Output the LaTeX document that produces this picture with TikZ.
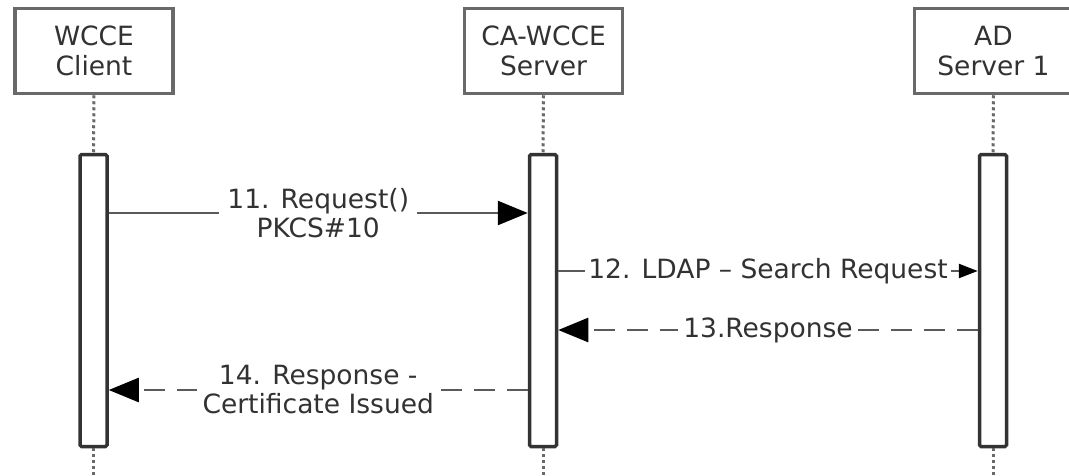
\documentclass[tikz,border=0pt]{standalone}
\usepackage{fontspec}
\setmainfont{DejaVu Sans}
\usetikzlibrary{arrows.meta,calc}
\definecolor{boxgray}{RGB}{105,105,105}
\definecolor{linegray}{RGB}{90,90,90}
\definecolor{txtgray}{RGB}{50,50,50}
\begin{document}
\begin{tikzpicture}[x=1pt,y=-1pt,
  actor/.style={draw=boxgray,line width=3.5pt,fill=white,minimum width=158pt,minimum height=85pt,
    align=center,text=txtgray,font=\fontsize{26.5}{30}\selectfont,inner sep=0pt},
  bar/.style={draw=black!80,line width=3.5pt,fill=white,minimum width=27pt,minimum height=292pt,rounded corners=1.5pt,inner sep=0pt},
  life/.style={draw=boxgray,line width=3pt,dash pattern=on 3pt off 3pt},
  msg/.style={draw=linegray,line width=2.5pt},
  ret/.style={msg,dash pattern=on 21pt off 12pt},
  lbl/.style={fill=white,text=txtgray,font=\fontsize{26.5}{29}\selectfont,align=center,inner xsep=8pt,inner ysep=0pt},
  bigtip/.style={-{Triangle[length=30pt,width=24pt,color=black,fill=black]}},
  smalltip/.style={-{Triangle[length=19pt,width=14pt,color=black,fill=black]}}
]
\useasboundingbox (0,0) rectangle (1069,475);
% lifelines
\coordinate (cbot) at (93.5,475);
\coordinate (sbot) at (543,475);
\coordinate (abot) at (993,475);
\node[bar] (cb) at (93.5,300.5) {};
\node[bar] (sb) at (543,300.5) {};
\node[bar] (ab) at (993,300.5) {};
\node[actor] (c) at (94,51) {WCCE\\Client};
\node[actor] (s) at (543.5,51) {CA-WCCE\\Server};
\node[actor] (a) at (993.5,51) {AD\\Server 1};
\draw[life] (c.south) -- (cb.north);
\draw[life] (s.south) -- (sb.north);
\draw[life] (a.south) -- (ab.north);
\draw[life] (cb.south) -- (cbot);
\draw[life] (sb.south) -- (sbot);
\draw[life] (ab.south) -- (abot);
% message heights
\coordinate (y11) at (0,213);
\coordinate (y12) at (0,271);
\coordinate (y13) at (0,330);
\coordinate (y14) at (0,390);
% 11
\draw[msg,bigtip] (cb.east |- y11) -- node[lbl,pos=0.5] {11. Request()\\PKCS\#10} (sb.west |- y11);
% 12
\draw[msg,smalltip] (sb.east |- y12) -- node[lbl,pos=0.5,inner xsep=3pt] {12. LDAP – Search Request} (ab.west |- y12);
% 13
\draw[ret,bigtip] (ab.west |- y13) -- node[lbl,pos=0.5,inner xsep=5pt] {13.Response} (sb.east |- y13);
% 14
\draw[ret,bigtip] (sb.west |- y14) -- node[lbl,pos=0.5,inner xsep=6pt] {14. Response -\\Certificate Issued} (cb.east |- y14);
\end{tikzpicture}
\end{document}
